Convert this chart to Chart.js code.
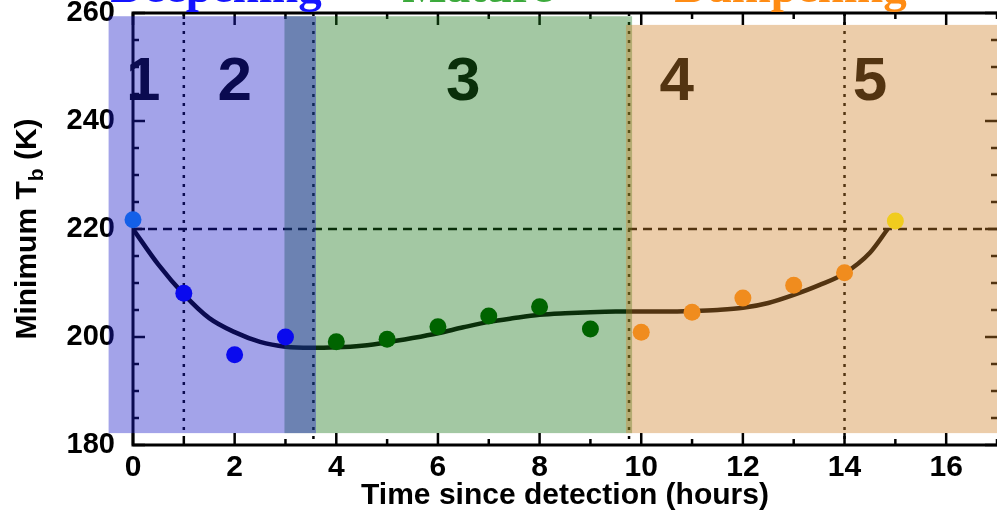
<!DOCTYPE html>
<html>
<head>
<meta charset="utf-8">
<script src="https://cdn.jsdelivr.net/npm/chart.js@4.4.0/dist/chart.umd.min.js"></script>
<style>
  body { margin: 0; background: #fff; }
  #wrap { width: 997px; height: 515px; }
</style>
</head>
<body>
<div id="wrap"><canvas id="tbChart" width="997" height="515"></canvas></div>
<script>
// hourly minimum brightness temperature (K)
var hours = [0, 1, 2, 3, 4, 5, 6, 7, 8, 9, 10, 11, 12, 13, 14, 15];
var minTb = [221.7, 208.1, 196.7, 200.0, 199.1, 199.6, 201.9, 203.9, 205.6, 201.5, 200.9, 204.6, 207.2, 209.6, 211.9, 221.5];
var pointColors = ['#1460e8', '#0a0aee', '#0a0aee', '#0a0aee',
  '#006400', '#006400', '#006400', '#006400', '#006400', '#006400',
  '#f08c1e', '#f08c1e', '#f08c1e', '#f08c1e', '#f08c1e', '#f0cc1e'];

// fitted curve
var fitHours = [0, 0.5, 1, 1.5, 2, 2.5, 3, 3.5, 4, 4.5, 5, 5.5, 6, 6.5, 7, 7.5, 8, 8.5, 9, 9.5, 10, 10.5, 11, 11.5, 12, 12.5, 13, 13.5, 14, 14.5, 14.85];
var fitTb = [220.0, 213.4, 207.9, 203.5, 200.9, 199.1, 198.2, 198.0, 198.1, 198.4, 199.0, 199.8, 200.7, 201.8, 202.8, 203.5, 204.1, 204.4, 204.6, 204.7, 204.7, 204.7, 204.8, 205.0, 205.4, 206.3, 207.8, 209.6, 211.8, 215.6, 220.0];

var xTickValues = [0, 2, 4, 6, 8, 10, 12, 14, 16];
var yTickValues = [180, 200, 220, 240, 260];
var referenceTb = 220;

// phases
var phaseNames = ['1', '2', '3', '4', '5'];
var phaseLabelHours = [0.2, 2.0, 6.5, 10.7, 14.5];
var phaseLabelTb = 247.4;
var phaseBreaks = [1, 3.55, 9.76, 14];

// shaded stages: green, blue, orange
var bandStart = [2.98, -0.48, 9.7];
var bandEnd = [9.82, 3.6, 17.5];
var bandTop = [259.4, 259.4, 257.8];
var bandBottom = 182.2;
var bandColors = ['rgba(25,117,25,0.4)', 'rgba(25,25,200,0.4)', 'rgba(207,130,42,0.4)'];

var stageWords = ['Deepening', 'Mature', 'Dampening'];
var stageWordHours = [-0.45, 5.3, 10.65];
var stageWordColors = ['#1414ff', '#3caa3c', '#ff8c14'];

var sans = '"Liberation Sans", Arial, Helvetica, sans-serif';

var overlay = {
  id: 'overlay',
  beforeDatasetsDraw: function(chart) {
    var ctx = chart.ctx, a = chart.chartArea, x = chart.scales.x, y = chart.scales.y;
    ctx.save();
    ctx.strokeStyle = '#000';
    ctx.fillStyle = '#000';
    // axes frame (right side sits at the canvas edge)
    ctx.lineWidth = 3;
    ctx.beginPath();
    ctx.moveTo(a.right + 2, a.top);
    ctx.lineTo(a.left, a.top);
    ctx.lineTo(a.left, a.bottom);
    ctx.lineTo(a.right + 2, a.bottom);
    ctx.stroke();
    // inward ticks
    ctx.lineWidth = 2.5;
    ctx.beginPath();
    for (var h = 0; h <= 17; h++) {
      var px = x.getPixelForValue(h);
      var len = h % 2 === 0 ? 12 : 6;
      ctx.moveTo(px, a.bottom); ctx.lineTo(px, a.bottom - len);
      ctx.moveTo(px, a.top); ctx.lineTo(px, a.top + len);
    }
    for (var t = 180; t <= 260; t += 5) {
      var py = y.getPixelForValue(t);
      var tl = t % 20 === 0 ? 12 : 6;
      ctx.moveTo(a.left, py); ctx.lineTo(a.left + tl, py);
      ctx.moveTo(a.right, py); ctx.lineTo(a.right - tl, py);
    }
    ctx.stroke();
    // reference level
    ctx.setLineDash([9, 6]);
    ctx.beginPath();
    var ry = y.getPixelForValue(referenceTb);
    ctx.moveTo(a.left, ry);
    ctx.lineTo(a.right, ry);
    ctx.stroke();
    // phase breaks
    ctx.setLineDash([3, 6]);
    ctx.beginPath();
    phaseBreaks.forEach(function(b) {
      var bx = x.getPixelForValue(b);
      ctx.moveTo(bx, a.top);
      ctx.lineTo(bx, a.bottom);
    });
    ctx.stroke();
    ctx.setLineDash([]);
    // phase numbers
    ctx.font = 'bold 62px ' + sans;
    ctx.textAlign = 'center';
    ctx.textBaseline = 'middle';
    phaseNames.forEach(function(n, i) {
      ctx.fillText(n, x.getPixelForValue(phaseLabelHours[i]), y.getPixelForValue(phaseLabelTb) + 2);
    });
    ctx.restore();
  },
  afterDatasetDraw: function(chart, args) {
    if (args.index !== 0) return;
    var ctx = chart.ctx, x = chart.scales.x, y = chart.scales.y;
    ctx.save();
    for (var i = 0; i < bandStart.length; i++) {
      var x0 = x.getPixelForValue(bandStart[i]);
      var x1 = x.getPixelForValue(bandEnd[i]);
      var y0 = y.getPixelForValue(bandTop[i]);
      var y1 = y.getPixelForValue(bandBottom);
      ctx.fillStyle = bandColors[i];
      ctx.fillRect(x0, y0, x1 - x0, y1 - y0);
    }
    ctx.restore();
  },
  afterDraw: function(chart) {
    var ctx = chart.ctx, a = chart.chartArea, x = chart.scales.x;
    ctx.save();
    // y axis title with subscript
    ctx.translate(28, (a.top + a.bottom) / 2);
    ctx.rotate(-Math.PI / 2);
    ctx.fillStyle = '#000';
    ctx.textBaseline = 'middle';
    ctx.textAlign = 'left';
    var big = 'bold 30px ' + sans, small = 'bold 21px ' + sans;
    ctx.font = big;
    var w1 = ctx.measureText('Minimum T').width;
    var w3 = ctx.measureText(' (K)').width;
    ctx.font = small;
    var w2 = ctx.measureText('b').width;
    var sx = -(w1 + w2 + w3) / 2;
    ctx.font = big;
    ctx.fillText('Minimum T', sx, 0);
    ctx.font = small;
    ctx.fillText('b', sx + w1, 9);
    ctx.font = big;
    ctx.fillText(' (K)', sx + w1 + w2, 0);
    ctx.restore();
    // stage words running off the top edge
    ctx.save();
    ctx.font = 'bold 47px "Liberation Serif", "Times New Roman", serif';
    ctx.textBaseline = 'alphabetic';
    ctx.textAlign = 'left';
    stageWords.forEach(function(wd, i) {
      ctx.fillStyle = stageWordColors[i];
      ctx.fillText(wd, x.getPixelForValue(stageWordHours[i]), 2);
    });
    ctx.restore();
  }
};

var fitPoints = fitHours.map(function(h, i) { return { x: h, y: fitTb[i] }; });
var obsPoints = hours.map(function(h, i) { return { x: h, y: minTb[i] }; });

new Chart(document.getElementById('tbChart'), {
  type: 'scatter',
  data: {
    datasets: [
      {
        type: 'line',
        data: fitPoints,
        borderColor: '#000',
        borderWidth: 4.5,
        pointRadius: 0,
        cubicInterpolationMode: 'monotone',
        fill: false,
        order: 2
      },
      {
        data: obsPoints,
        pointBackgroundColor: pointColors,
        pointBorderWidth: 0,
        pointRadius: 8.5,
        clip: false,
        order: 1
      }
    ]
  },
  options: {
    responsive: false,
    animation: false,
    devicePixelRatio: 1,
    layout: { autoPadding: false, padding: { top: 13, right: 0, left: 0, bottom: 0 } },
    plugins: { legend: { display: false }, tooltip: { enabled: false } },
    scales: {
      x: {
        type: 'linear',
        min: 0,
        max: 17,
        afterBuildTicks: function(s) {
          s.ticks = xTickValues.map(function(v) { return { value: v }; });
        },
        ticks: {
          autoSkip: false,
          maxRotation: 0,
          color: '#000',
          padding: 5,
          font: { family: sans, size: 30, weight: 'bold' }
        },
        grid: { display: false, drawTicks: false },
        border: { display: false },
        title: {
          display: true,
          text: 'Time since detection (hours)',
          color: '#000',
          font: { family: sans, size: 30, weight: 'bold' },
          padding: { top: 0, bottom: 1 }
        },
        afterFit: function(s) { s.height = 70; s.paddingLeft = 0; s.paddingRight = 0; }
      },
      y: {
        min: 180,
        max: 260,
        z: 1,
        afterBuildTicks: function(s) {
          s.ticks = yTickValues.map(function(v) { return { value: v }; });
        },
        ticks: {
          color: '#000',
          padding: 18,
          font: { family: sans, size: 29, weight: 'bold' }
        },
        grid: { display: false, drawTicks: false },
        border: { display: false },
        afterFit: function(s) { s.width = 133; s.paddingTop = 0; s.paddingBottom = 0; }
      }
    }
  },
  plugins: [overlay]
});
</script>
</body>
</html>
